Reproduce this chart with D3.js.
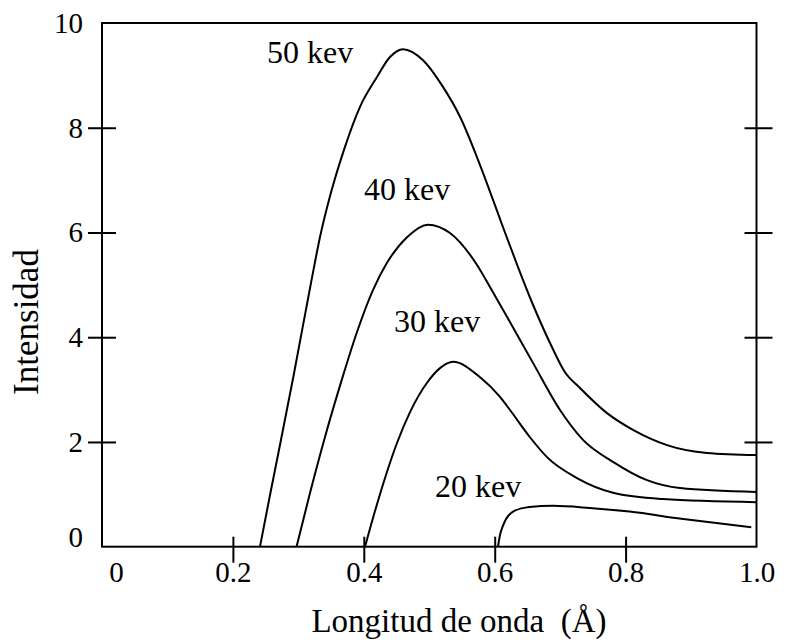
<!DOCTYPE html>
<html>
<head>
<meta charset="utf-8">
<script src="https://cdn.jsdelivr.net/npm/d3@7"></script>
<style>
  html, body { margin: 0; padding: 0; background: #fff; }
  svg { display: block; }
  text { font-family: "Liberation Serif", "Times New Roman", serif; fill: #000; }
</style>
</head>
<body>
<svg id="chart" width="786" height="643"></svg>
<script>
// Continuous X-ray spectra: intensity versus wavelength for several tube voltages
const series20 = [[0.605,0],[0.608,0.22],[0.613,0.41],[0.628,0.67],[0.653,0.76],[0.689,0.78],[0.745,0.74],[0.806,0.67],[0.882,0.54],[0.992,0.37]];
const series30 = [[0.4019,0],[0.4171,0.68],[0.4339,1.37],[0.4507,1.98],[0.4706,2.57],[0.4966,3.13],[0.5164,3.41],[0.5363,3.53],[0.5791,3.22],[0.6081,2.86],[0.6234,2.61],[0.6539,2.09],[0.6799,1.71],[0.7257,1.31],[0.7808,1.03],[0.8571,0.91],[1.0,0.85]];
const series40 = [[0.2972,0],[0.3178,1.025],[0.3407,2.095],[0.3662,3.18],[0.3896,4.10],[0.4140,4.90],[0.4354,5.42],[0.4660,5.91],[0.4981,6.15],[0.5317,5.99],[0.5730,5.38],[0.5928,4.96],[0.6188,4.39],[0.6585,3.51],[0.6998,2.61],[0.7349,2.04],[0.7808,1.62],[0.8327,1.27],[0.8831,1.12],[1.0,1.045]];
const series50 = [[0.2414,0],[0.2552,0.892],[0.2704,1.846],[0.2926,3.26],[0.3193,5.035],[0.3331,5.914],[0.3468,6.62],[0.3682,7.52],[0.3942,8.40],[0.4202,8.97],[0.4400,9.35],[0.4599,9.50],[0.4905,9.29],[0.5210,8.78],[0.5470,8.21],[0.5821,7.14],[0.6127,6.10],[0.6356,5.34],[0.6585,4.62],[0.6845,3.89],[0.7074,3.33],[0.7303,3.03],[0.7716,2.55],[0.8113,2.23],[0.8632,1.94],[0.9244,1.79],[1.0,1.75]];

const curveLabels = ["20 kev", "30 kev", "40 kev", "50 kev"];
const xTickValues = [0, 0.2, 0.4, 0.6, 0.8, 1.0];
const xTickLabels = ["0", "0.2", "0.4", "0.6", "0.8", "1.0"];
const yTickValues = [0, 2, 4, 6, 8, 10];
const yTickLabels = ["0", "2", "4", "6", "8", "10"];
const xTitle = "Longitud de onda  (Å)";
const yTitle = "Intensidad";

const svg = d3.select("#chart");
const x = d3.scaleLinear().domain([0, 1]).range([102, 756.5]);
const y = d3.scaleLinear().domain([0, 10]).range([546.7, 23]);

// plot frame
svg.append("rect")
  .attr("x", x(0)).attr("y", y(10))
  .attr("width", x(1) - x(0)).attr("height", y(0) - y(10))
  .attr("fill", "none").attr("stroke", "#000").attr("stroke-width", 2);

// left axis: ticks crossing the frame
const left = svg.append("g").attr("transform", `translate(${x(0)},0)`)
  .call(d3.axisLeft(y).tickValues(yTickValues).tickSize(0).tickPadding(19)
    .tickFormat((d, i) => yTickLabels[i]));
left.select(".domain").remove();
left.selectAll(".tick text").attr("font-size", 29)
  .attr("dy", (d) => d === 0 ? "0.0em" : "0.32em");
left.selectAll(".tick line")
  .attr("x1", -14).attr("x2", 14).attr("stroke-width", 2)
  .attr("display", (d) => (d === 0 || d === 10) ? "none" : null);

// right axis: tick marks only
const right = svg.append("g").attr("transform", `translate(${x(1)},0)`)
  .call(d3.axisRight(y).tickValues(yTickValues.filter(d => d > 0 && d < 10)).tickSize(0).tickFormat(""));
right.select(".domain").remove();
right.selectAll(".tick line").attr("x1", -12).attr("x2", 16).attr("stroke-width", 2);

// bottom axis
const bottom = svg.append("g").attr("transform", `translate(0,${y(0)})`)
  .call(d3.axisBottom(x).tickValues(xTickValues).tickSize(0).tickPadding(0)
    .tickFormat((d, i) => xTickLabels[i]));
bottom.select(".domain").remove();
bottom.selectAll(".tick text").attr("font-size", 29)
  .attr("y", 35).attr("dy", 0)
  .attr("x", (d) => d === 0 ? 14 : 0);
bottom.selectAll(".tick line")
  .attr("y1", -10).attr("y2", 16).attr("stroke-width", 2)
  .attr("display", (d) => (d === 0 || d === 1) ? "none" : null);

// spectra
const line = d3.line().x(d => x(d[0])).y(d => y(d[1])).curve(d3.curveMonotoneX);
const allSeries = [series20, series30, series40, series50];
svg.append("g").selectAll("path").data(allSeries).join("path")
  .attr("d", line).attr("fill", "none").attr("stroke", "#000").attr("stroke-width", 2)
  .attr("stroke-linejoin", "round");

// curve labels
const labelPos = [[435, 496.5], [394, 332], [364, 200], [267, 63]];
svg.append("g").selectAll("text").data(curveLabels).join("text")
  .attr("x", (d, i) => labelPos[i][0]).attr("y", (d, i) => labelPos[i][1])
  .attr("font-size", 32).text(d => d);

// axis titles
svg.append("text").attr("x", 459).attr("y", 632).attr("text-anchor", "middle")
  .attr("font-size", 33).style("white-space", "pre").text(xTitle);
svg.append("text").attr("transform", "translate(38,322) rotate(-90)").attr("text-anchor", "middle")
  .attr("font-size", 35).text(yTitle);
</script>
</body>
</html>
